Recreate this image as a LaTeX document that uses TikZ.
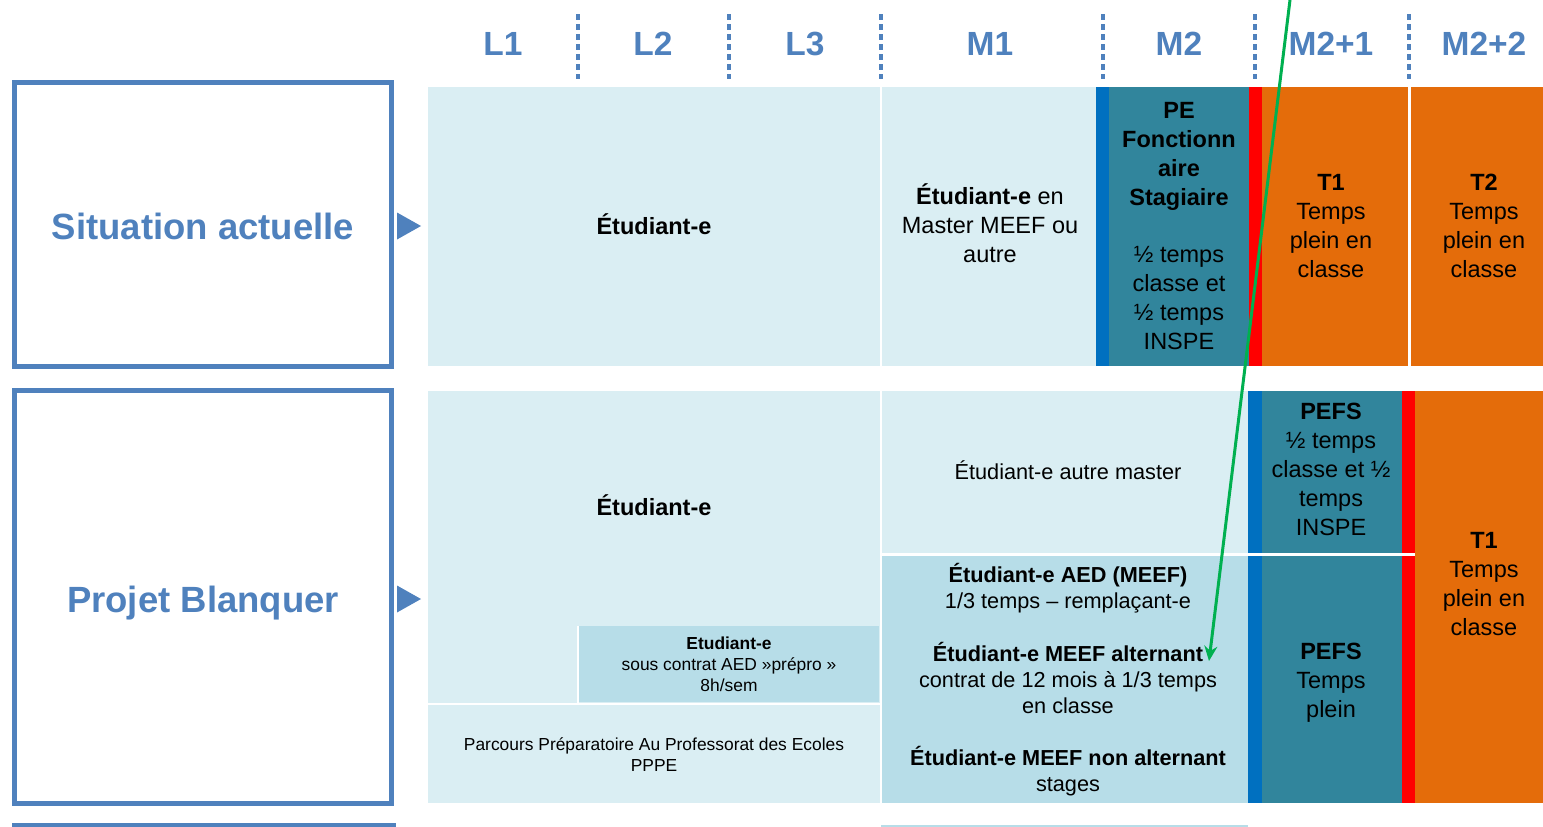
\documentclass[tikz,border=0pt]{standalone}
\usepackage{fontspec}
\setmainfont{Liberation Sans}
\usetikzlibrary{arrows.meta}
\definecolor{hdblue}{HTML}{4F81BD}
\definecolor{cellA}{HTML}{DAEEF3}
\definecolor{cellB}{HTML}{B7DDE8}
\definecolor{pfsblue}{HTML}{0070C0}
\definecolor{pfsteal}{HTML}{31859C}
\definecolor{tired}{HTML}{FF0000}
\definecolor{tiorange}{HTML}{E46C0A}
\definecolor{arrowgreen}{HTML}{00B050}

\tikzset{
  hdr/.style={text=hdblue, inner sep=0pt, font=\fontsize{33.5}{36}\selectfont\bfseries},
  yearsep/.style={hdblue, line width=3.5pt, dash pattern=on 6pt off 4pt},
  sidebox/.style={draw=hdblue, line width=5pt, minimum width=377pt},
  sidelab/.style={text=hdblue, inner sep=0pt, anchor=base, font=\fontsize{36.5}{40}\selectfont\bfseries},
  txtbig/.style={align=center, inner sep=0pt, font=\fontsize{23.5}{29}\selectfont},
  txtmid/.style={align=center, inner sep=0pt, font=\fontsize{21.7}{26}\selectfont},
  txtsmall/.style={align=center, inner sep=0pt, font=\fontsize{17.4}{21}\selectfont},
}

\begin{document}
\begin{tikzpicture}[x=1pt, y=-1pt]

    \useasboundingbox (0,0) rectangle (1543,827);

    % 年份标题和虚线
    \foreach \xx/\lab [count=\i] in {503/L1, 653/L2, 805/L3, 990/M1, 1179/M2, 1331/M2+1, 1484/M2+2}
        \node[hdr] (hdr\i) at (\xx,44) {\lab};
    \foreach \xx in {578,729,881,1103,1255,1409}
        \draw[yearsep] (\xx,14) -- (\xx,79);

    % 第一行:现状
    \fill[cellA] (428,87) rectangle (880,366);
    \fill[cellA] (882,87) rectangle (1096,366);
    \fill[pfsblue] (1096,87) rectangle (1109,366);
    \fill[pfsteal] (1109,87) rectangle (1249,366);
    \fill[tired] (1249,87) rectangle (1262,366);
    \fill[tiorange] (1262,87) rectangle (1408,366);
    \fill[tiorange] (1411,87) rectangle (1543,366);

    % 第二行:Blanquer 方案
    \fill[cellA] (428,391) rectangle (880,703);
    \fill[white] (577,626) rectangle (579,703);
    \fill[cellB] (579,626) rectangle (879,702);
    \fill[cellA] (428,705) rectangle (880,803);
    \fill[cellA] (882,391) rectangle (1248,553);
    \fill[cellB] (882,556) rectangle (1248,803);
    \fill[pfsblue] (1248,391) rectangle (1262,803);
    \fill[pfsteal] (1262,391) rectangle (1402,803);
    \fill[tired] (1402,391) rectangle (1415,803);
    \fill[tiorange] (1415,391) rectangle (1543,803);
    \fill[white] (1248,553) rectangle (1415,555.5);

    % 下一行的边缘
    \fill[hdblue] (12,823) rectangle (396,830);
    \fill[cellB] (881,825) rectangle (1248,830);

    % 左侧标题框
    \node[sidebox, minimum height=284pt] (sit) at (203,224.5) {};
    \node[sidebox, minimum height=413pt] (proj) at (203,597) {};
    \node[sidelab] (sitlab) at (203,239) {Situation actuelle};
    \node[sidelab] (projlab) at (203,612) {Projet Blanquer};
    \fill[hdblue] ([xshift=3pt, yshift=-1.5pt]sit.east) -- ++(0,-13.5) -- ++(24,13.5) -- ++(-24,13.5) -- cycle;
    \fill[hdblue] ([xshift=3pt, yshift=-2pt]proj.east) -- ++(0,-13.5) -- ++(24,13.5) -- ++(-24,13.5) -- cycle;

    % 第一行文字
    \node[txtbig] (etu1) at (654,224) {\textbf{Étudiant-e}};
    \node[txtbig] (meef1) at (990,223) {\textbf{Étudiant-e} en\\Master MEEF ou\\autre};
    \node[txtbig] (stag1) at (1179,226) {\textbf{PE}\\\textbf{Fonctionn}\\\textbf{aire}\\\textbf{Stagiaire}\\[28pt]½ temps\\classe et\\½ temps\\INSPE};
    \node[txtbig] (tone1) at (1331,226) {\textbf{T1}\\Temps\\plein en\\classe};
    \node[txtbig] (ttwo1) at (1484,226) {\textbf{T2}\\Temps\\plein en\\classe};

    % 第二行文字
    \node[txtbig] (etu2) at (654,505) {\textbf{Étudiant-e}};
    \node[txtsmall] (prepro) at (729,664) {\textbf{Etudiant-e}\\sous contrat AED »prépro »\\8h/sem};
    \node[txtsmall] (pppe) at (654,755) {Parcours Préparatoire Au Professorat des Ecoles\\PPPE};
    \node[txtmid] (autre) at (1068,470) {Étudiant-e autre master};
    \node[txtmid] (aed) at (1068,680) {\textbf{Étudiant-e AED (MEEF)}\\1/3 temps -- remplaçant-e\\[27pt]\textbf{Étudiant-e MEEF alternant}\\contrat de 12 mois à 1/3 temps\\en classe\\[26pt]\textbf{Étudiant-e MEEF non alternant}\\stages};
    \node[txtbig] (pefsA) at (1331,469) {\textbf{PEFS}\\½ temps\\classe et ½\\temps\\INSPE};
    \node[txtbig] (pefsB) at (1331,683) {\textbf{PEFS}\\Temps\\plein};
    \node[txtbig] (tone2) at (1484,584) {\textbf{T1}\\Temps\\plein en\\classe};

    % 绿色箭头
    \coordinate (gtop) at (1290,0);
    \coordinate (gtip) at (1209,661);
    \draw[arrowgreen, line width=3pt, -{Stealth[length=15pt, width=13pt]}] (gtop) -- (gtip);

\end{tikzpicture}
\end{document}
